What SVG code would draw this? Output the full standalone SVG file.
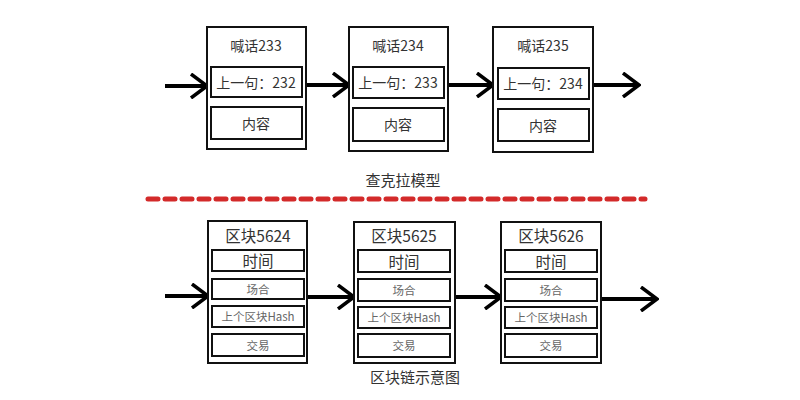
<svg xmlns="http://www.w3.org/2000/svg" width="800" height="400" viewBox="0 0 800 400">
<style>
text{font-family:"Noto Sans CJK SC","Noto Sans",sans-serif;text-anchor:middle;dominant-baseline:central;fill:#333}
.box{fill:#fff;stroke:#111;stroke-width:2}
.in{fill:none;stroke:#111;stroke-width:2}
.t1{font-size:14px}
.t2{font-size:14px}
.bt{font-size:15.5px}
.bs{font-size:11.5px;fill:#666}
.lbl{font-size:15px}
.arr{stroke:#000;stroke-width:4;fill:none}
</style>
<defs>
<marker id="ah" markerUnits="userSpaceOnUse" viewBox="0 0 20 26" refX="18" refY="13" markerWidth="20" markerHeight="26" orient="auto">
<path d="M2,1 L18,13 L2,25" fill="none" stroke="#000" stroke-width="3.5"/>
</marker>
</defs>
<rect width="800" height="400" fill="#fff"/>
<g id="connectors">
<line class="arr" x1="165" y1="86" x2="207" y2="86" marker-end="url(#ah)"/>
<line class="arr" x1="306" y1="85" x2="349" y2="85" marker-end="url(#ah)"/>
<line class="arr" x1="448" y1="85" x2="493" y2="85" marker-end="url(#ah)"/>
<line class="arr" x1="593" y1="85" x2="639" y2="85" marker-end="url(#ah)"/>
<line class="arr" x1="165" y1="296" x2="208" y2="296" marker-end="url(#ah)"/>
<line class="arr" x1="307" y1="297" x2="354" y2="297" marker-end="url(#ah)"/>
<line class="arr" x1="455" y1="297" x2="501" y2="297" marker-end="url(#ah)"/>
<line class="arr" x1="601" y1="299" x2="657" y2="299" marker-end="url(#ah)"/>
</g>
<g id="n233">
<rect class="box" x="207" y="27" width="99" height="122"/>
<text class="t1" x="256" y="45">喊话233</text>
<rect class="in" x="211" y="67" width="91" height="30"/>
<text class="t2" x="256" y="82">上一句：232</text>
<rect class="in" x="211" y="107" width="91" height="32"/>
<text class="t2" x="256" y="123">内容</text>
</g>
<g id="n234">
<rect class="box" x="349" y="27" width="99" height="124"/>
<text class="t1" x="398" y="45">喊话234</text>
<rect class="in" x="353" y="67" width="91" height="31"/>
<text class="t2" x="398" y="82">上一句：233</text>
<rect class="in" x="353" y="108" width="91" height="33"/>
<text class="t2" x="398" y="124">内容</text>
</g>
<g id="n235">
<rect class="box" x="493" y="27" width="100" height="125"/>
<text class="t1" x="543" y="45">喊话235</text>
<rect class="in" x="498" y="68" width="91" height="31"/>
<text class="t2" x="543" y="83">上一句：234</text>
<rect class="in" x="498" y="109" width="91" height="32"/>
<text class="t2" x="543" y="125">内容</text>
</g>
<text class="lbl" x="403" y="179">查克拉模型</text>
<line x1="148" y1="199" x2="645" y2="199" stroke="#d32a2a" stroke-width="5" stroke-linecap="round" stroke-dasharray="10 7"/>
<g id="b5624">
<rect class="box" x="208" y="221" width="99" height="142"/>
<text class="bt" x="258" y="235">区块5624</text>
<rect class="in" x="212" y="250" width="92" height="21"/>
<text class="bt" x="258" y="260">时间</text>
<rect class="in" x="212" y="279" width="92" height="20"/>
<text class="bs" x="258" y="289">场合</text>
<rect class="in" x="212" y="306" width="92" height="21"/>
<text class="bs" x="258" y="316">上个区块Hash</text>
<rect class="in" x="212" y="334" width="92" height="22"/>
<text class="bs" x="258" y="345">交易</text>
</g>
<g id="b5625">
<rect class="box" x="354" y="222" width="101" height="141"/>
<text class="bt" x="404" y="235">区块5625</text>
<rect class="in" x="358" y="250" width="92" height="22"/>
<text class="bt" x="404" y="261">时间</text>
<rect class="in" x="358" y="279" width="92" height="22"/>
<text class="bs" x="404" y="290">场合</text>
<rect class="in" x="358" y="307" width="92" height="21"/>
<text class="bs" x="404" y="317">上个区块Hash</text>
<rect class="in" x="358" y="334" width="92" height="23"/>
<text class="bs" x="404" y="345">交易</text>
</g>
<g id="b5626">
<rect class="box" x="501" y="222" width="100" height="141"/>
<text class="bt" x="551" y="235">区块5626</text>
<rect class="in" x="505" y="250" width="92" height="22"/>
<text class="bt" x="551" y="261">时间</text>
<rect class="in" x="505" y="279" width="92" height="22"/>
<text class="bs" x="551" y="290">场合</text>
<rect class="in" x="505" y="307" width="92" height="21"/>
<text class="bs" x="551" y="317">上个区块Hash</text>
<rect class="in" x="505" y="334" width="92" height="23"/>
<text class="bs" x="551" y="345">交易</text>
</g>
<text class="lbl" x="415" y="376">区块链示意图</text>
</svg>
